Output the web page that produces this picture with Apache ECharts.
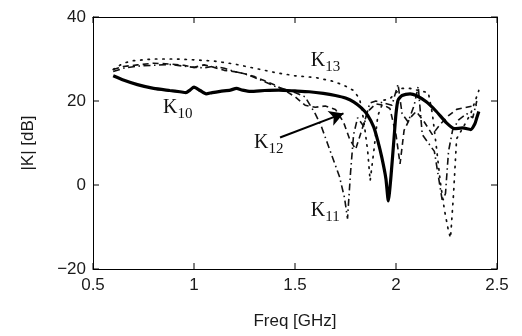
<!DOCTYPE html>
<html><head><meta charset="utf-8">
<script src="https://cdn.jsdelivr.net/npm/echarts@6/dist/echarts.min.js"></script>
<style>html,body{margin:0;padding:0;background:#fff}#c{width:522px;height:336px}</style>
</head><body><div id="c"></div>
<script>
var xTicks = [0.5, 1, 1.5, 2, 2.5];
var yTicks = [-20, 0, 20, 40];

var freq10 = [0.60,0.65,0.72,0.80,0.88,0.93,0.96,0.98,1.00,1.03,1.06,1.09,1.13,1.18,1.21,1.24,1.28,1.35,1.42,1.50,1.57,1.64,1.70,1.75,1.79,1.83,1.86,1.89,1.91,1.93,1.95,1.962,1.975,1.99,2.00,2.01,2.03,2.07,2.10,2.15,2.20,2.25,2.29,2.33,2.37,2.39,2.40,2.41];
var db10 =   [26.0,25.0,23.9,23.0,22.5,22.2,22.0,22.6,23.3,22.5,21.7,22.0,22.3,22.6,23.0,22.6,22.3,22.5,22.6,22.4,22.2,21.8,21.3,20.7,19.8,18.3,16.6,13.8,10.5,6.5,1.5,-3.8,2.0,11.0,17.0,20.2,21.3,21.7,21.3,19.8,17.5,14.8,13.4,13.6,13.2,14.5,16.0,17.5];

var freq11 = [0.60,0.65,0.72,0.80,0.88,0.95,1.00,1.05,1.10,1.15,1.20,1.25,1.30,1.35,1.40,1.45,1.50,1.55,1.60,1.63,1.66,1.69,1.72,1.745,1.76,1.775,1.79,1.81,1.84,1.87,1.90,1.94,1.98,2.01,2.03,2.06,2.09,2.11,2.13,2.16,2.19,2.21,2.23,2.245,2.26,2.28,2.31,2.35,2.38,2.40];
var db11 =   [27.0,27.8,28.3,28.5,28.7,28.3,28.0,27.9,28.3,27.8,27.0,26.5,25.6,24.6,23.5,22.8,22.0,21.0,17.0,14.0,10.0,6.0,2.0,-3.0,-8.0,3.0,12.0,16.0,14.0,19.5,20.0,19.5,19.0,24.0,17.0,15.0,19.0,23.5,12.0,10.0,8.0,2.0,-4.0,-2.0,8.0,13.0,15.5,17.0,16.0,20.0];

var freq12 = [0.60,0.65,0.72,0.80,0.88,0.95,1.00,1.05,1.10,1.15,1.20,1.25,1.30,1.35,1.40,1.45,1.50,1.55,1.60,1.65,1.70,1.74,1.77,1.80,1.83,1.86,1.90,1.94,1.97,2.00,2.02,2.04,2.07,2.10,2.14,2.18,2.22,2.26,2.30,2.35,2.40];
var db12 =   [27.5,28.2,28.6,29.0,28.8,28.5,28.0,28.6,28.0,27.3,27.0,26.5,25.8,24.8,23.8,22.5,21.0,19.0,18.5,18.8,18.0,15.0,11.0,8.5,13.0,17.5,19.3,19.0,18.2,12.0,5.0,13.0,16.0,17.5,15.0,12.0,14.5,16.5,18.0,18.5,19.0];

var freq13 = [0.60,0.65,0.70,0.80,0.90,1.00,1.10,1.20,1.30,1.40,1.50,1.60,1.68,1.74,1.79,1.82,1.84,1.86,1.872,1.89,1.91,1.94,1.97,2.00,2.03,2.07,2.12,2.16,2.18,2.20,2.22,2.24,2.26,2.27,2.285,2.30,2.33,2.37,2.41];
var db13 =   [27.5,29.0,29.6,30.0,30.0,29.8,29.5,28.8,27.8,26.8,26.0,25.6,24.8,23.8,22.5,20.5,15.5,8.0,1.0,8.0,16.5,20.2,20.5,22.0,23.0,23.0,22.4,22.0,17.0,9.0,0.5,-6.0,-11.0,-12.6,-2.0,11.0,13.5,17.0,22.5];

var curveLabels = ['K10', 'K11', 'K12', 'K13'];
var labelFreq = [0.847, 1.578, 1.297, 1.578];
var labelDb = [18.4, -6.2, 10.1, 29.5];
var arrowFrom = [1.426, 11.3];
var arrowTo = [1.74, 17.05];

var X_MIN = 0.5, X_MAX = 2.5, Y_MIN = -20, Y_MAX = 40;

function pairs(xs, ys) { return xs.map(function (x, i) { return [x, ys[i]]; }); }

var sans = '"Liberation Sans", Arial, Helvetica, sans-serif';
var serif = '"Liberation Serif", "Times New Roman", serif';
var TICK = 6;

var chart = echarts.init(document.getElementById('c'), null, {renderer: 'canvas'});

var labelPoints = curveLabels.map(function (name, i) {
  return {
    coord: [labelFreq[i], labelDb[i]],
    label: {
      formatter: '{k|' + name.charAt(0) + '}{s|' + name.slice(1) + '}'
    }
  };
});

function mkAxis(extra) {
  var a = {
    type: 'value',
    axisLine: {show: true, onZero: false, lineStyle: {color: '#000', width: 1}},
    axisTick: {show: false},
    splitLine: {show: false}
  };
  for (var k in extra) a[k] = extra[k];
  return a;
}

// inner tick marks on all four sides, positioned through the axes' scales
function xTickItem(params, api) {
  var v = api.value(0);
  var b = api.coord([v, Y_MIN]);
  var t = api.coord([v, Y_MAX]);
  return {
    type: 'group',
    children: [
      {type: 'line', shape: {x1: b[0], y1: b[1], x2: b[0], y2: b[1] - TICK}, style: {stroke: '#000', lineWidth: 1}},
      {type: 'line', shape: {x1: t[0], y1: t[1], x2: t[0], y2: t[1] + TICK}, style: {stroke: '#000', lineWidth: 1}}
    ]
  };
}
function yTickItem(params, api) {
  var v = api.value(1);
  var l = api.coord([X_MIN, v]);
  var r = api.coord([X_MAX, v]);
  return {
    type: 'group',
    children: [
      {type: 'line', shape: {x1: l[0], y1: l[1], x2: l[0] + TICK, y2: l[1]}, style: {stroke: '#000', lineWidth: 1}},
      {type: 'line', shape: {x1: r[0], y1: r[1], x2: r[0] - TICK, y2: r[1]}, style: {stroke: '#000', lineWidth: 1}}
    ]
  };
}

chart.setOption({
  animation: false,
  backgroundColor: '#fff',
  grid: {left: 93, right: 25, top: 17, bottom: 67, containLabel: false},
  xAxis: [
    mkAxis({
      min: X_MIN, max: X_MAX, interval: 0.5, position: 'bottom',
      axisLabel: {show: true, color: '#1a1a1a', fontFamily: sans, fontSize: 17, margin: 8},
      name: 'Freq [GHz]', nameLocation: 'middle', nameGap: 44,
      nameTextStyle: {color: '#1a1a1a', fontFamily: sans, fontSize: 17}
    }),
    mkAxis({
      min: X_MIN, max: X_MAX, interval: 0.5, position: 'top',
      axisLabel: {show: false}
    })
  ],
  yAxis: [
    mkAxis({
      min: Y_MIN, max: Y_MAX, interval: 20, position: 'left',
      axisLabel: {show: true, color: '#1a1a1a', fontFamily: sans, fontSize: 17, margin: 7,
        formatter: function (v) { return String(v).replace('-', '\u2212'); }},
      name: '|K| [dB]', nameLocation: 'middle', nameGap: 56,
      nameTextStyle: {color: '#1a1a1a', fontFamily: sans, fontSize: 17}
    }),
    mkAxis({
      min: Y_MIN, max: Y_MAX, interval: 20, position: 'right',
      axisLabel: {show: false}
    })
  ],
  series: [
    {
      type: 'custom', silent: true, clip: false,
      data: xTicks.map(function (v) { return [v, Y_MIN]; }),
      renderItem: xTickItem
    },
    {
      type: 'custom', silent: true, clip: false,
      data: yTicks.map(function (v) { return [X_MIN, v]; }),
      renderItem: yTickItem
    },
    {
      name: 'K13', type: 'line', data: pairs(freq13, db13), symbol: 'none',
      lineStyle: {color: '#111', width: 1.7, type: [1.4, 6], cap: 'round'}
    },
    {
      name: 'K11', type: 'line', data: pairs(freq11, db11), symbol: 'none',
      lineStyle: {color: '#111', width: 1.6, type: [7, 3.5, 1.5, 3.5]}
    },
    {
      name: 'K12', type: 'line', data: pairs(freq12, db12), symbol: 'none',
      lineStyle: {color: '#111', width: 1.6, type: [6, 4]}
    },
    {
      name: 'K10', type: 'line', data: pairs(freq10, db10), symbol: 'none', smooth: 0.2,
      lineStyle: {color: '#000', width: 3.2},
      markLine: {
        silent: true, symbol: ['none', 'arrow'], symbolSize: [12, 14],
        lineStyle: {color: '#000', width: 2, type: 'solid'},
        label: {show: false},
        data: [[{coord: arrowFrom}, {coord: arrowTo}]]
      },
      markPoint: {
        silent: true, symbol: 'circle', symbolSize: 0,
        label: {
          show: true, position: 'right', distance: 0, color: '#111',
          rich: {
            k: {fontFamily: serif, fontSize: 20, color: '#111', lineHeight: 22, verticalAlign: 'middle'},
            s: {fontFamily: serif, fontSize: 15, color: '#111', lineHeight: 22, padding: [12, 0, 0, 0], verticalAlign: 'middle'}
          }
        },
        data: labelPoints
      }
    }
  ]
});
</script>
</body></html>
